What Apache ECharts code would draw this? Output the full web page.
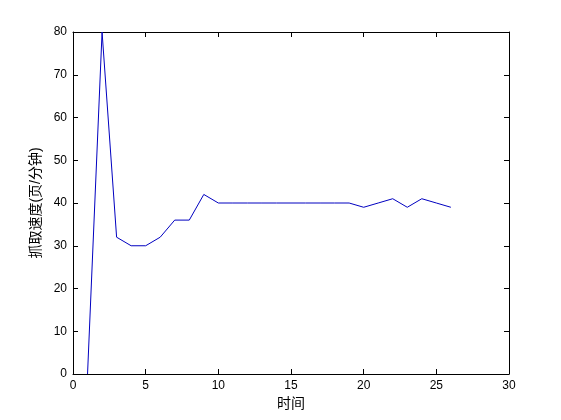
<!DOCTYPE html>
<html><head><meta charset="utf-8">
<script src="https://cdn.jsdelivr.net/npm/echarts@6/dist/echarts.min.js"></script>
<style>html,body{margin:0;padding:0;background:#fff}#c{width:561px;height:420px}</style>
</head><body><div id="c"></div>
<script>
const xValues = [1,2,3,4,5,6,7,8,9,10,11,12,13,14,15,16,17,18,19,20,21,22,23,24,25,26];
const speeds = [0,80,32,30,30,32,36,36,42,40,40,40,40,40,40,40,40,40,40,39,40,41,39,41,40,39];
const xLabel = '时间';
const yLabel = '抓取速度(页/分钟)';

const font = "'Liberation Sans', Arial, 'Noto Sans CJK SC', sans-serif";
const lineStyle = {color:'#000', width:1};
const chart = echarts.init(document.getElementById('c'));
const mkX = (pos, show) => ({
  type:'value', position:pos, min:0, max:30, interval:5,
  axisLine:{show:true, onZero:false, lineStyle},
  axisTick:{show:true, inside:true, length:5, lineStyle},
  axisLabel:{show:show, color:'#000', fontFamily:font, fontSize:12, margin:6},
  splitLine:{show:false},
  name: show ? xLabel : '', nameLocation:'middle', nameGap:21,
  nameTextStyle:{color:'#000', fontFamily:font, fontSize:14}
});
const mkY = (pos, show) => ({
  type:'value', position:pos, min:0, max:80, interval:10,
  axisLine:{show:true, onZero:false, lineStyle},
  axisTick:{show:true, inside:true, length:5, lineStyle},
  axisLabel:{show:show, color:'#000', fontFamily:font, fontSize:12, margin:6},
  splitLine:{show:false},
  name: show ? yLabel : '', nameLocation:'middle', nameGap:23, nameRotate:90,
  nameTextStyle:{color:'#000', fontFamily:font, fontSize:14}
});
chart.setOption({
  animation:false,
  backgroundColor:'#fff',
  grid:{left:73, right:52, top:32, bottom:46},
  xAxis:[mkX('bottom', true), mkX('top', false)],
  yAxis:[mkY('left', true), mkY('right', false)],
  series:[{
    type:'line', xAxisIndex:0, yAxisIndex:0,
    data: xValues.map((x,i)=>[x, speeds[i]]),
    showSymbol:false, symbol:'none',
    lineStyle:{color:'#0000c0', width:1}
  }]
});
</script></body></html>
